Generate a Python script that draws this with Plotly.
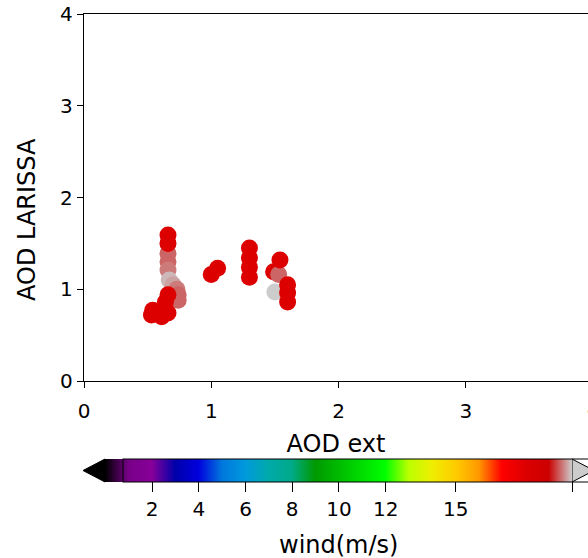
import plotly.graph_objects as go

# ---- data ----
aod_ext = [0.66, 0.66, 0.66, 0.67, 0.70, 0.73, 0.74, 0.74,
           0.66, 0.66, 0.66, 0.64, 0.62, 0.54, 0.53, 0.61, 0.66,
           1.00, 1.05,
           1.30, 1.30, 1.30, 1.30,
           1.50, 1.49, 1.53, 1.54, 1.60, 1.60, 1.60]
aod_larissa = [1.39, 1.30, 1.21, 1.10, 1.05, 1.00, 0.94, 0.88,
               1.59, 1.50, 0.94, 0.86, 0.77, 0.77, 0.72, 0.70, 0.74,
               1.16, 1.23,
               1.45, 1.34, 1.24, 1.13,
               0.97, 1.19, 1.16, 1.32, 1.05, 0.96, 0.86]
wind = [19.5, 19.5, 19.6, 19.9, 19.8, 19.6, 19.5, 19.5,
        18.0, 18.0, 18.0, 18.0, 18.0, 18.0, 18.0, 18.0, 18.0,
        18.0, 18.0,
        18.0, 18.0, 18.0, 18.0,
        20.0, 18.0, 19.5, 18.0, 18.0, 18.0, 18.0]
cbar_ticks = [2, 4, 6, 8, 10, 12, 15, 20]
x_ticks = [0, 1, 2, 3]
y_ticks = [0, 1, 2, 3, 4]

# matplotlib nipy_spectral
_r = [0.0, 0.4667, 0.5333, 0, 0, 0, 0, 0, 0, 0, 0, 0, 0, 0.7333, 0.9333, 1, 1, 1, 0.8667, 0.8, 0.8]
_g = [0, 0, 0, 0, 0, 0.4667, 0.6, 0.6667, 0.6667, 0.6, 0.7333, 0.8667, 1, 1, 0.9333, 0.8, 0.6, 0, 0, 0, 0.8]
_b = [0, 0.5333, 0.6, 0.6667, 0.8667, 0.8667, 0.8667, 0.6667, 0.5333, 0, 0, 0, 0, 0, 0, 0, 0, 0, 0, 0, 0.8]
cscale = [[i / 20, f"rgb({round(r*255)},{round(g*255)},{round(b*255)})"]
          for i, (r, g, b) in enumerate(zip(_r, _g, _b))]

W, H = 588, 558
L, T, B = 84, 14, 177
FONT = dict(family="DejaVu Sans", size=20, color="black")
TFONT = dict(family="DejaVu Sans", size=24, color="black")

fig = go.Figure()
fig.add_trace(go.Scatter(
    x=aod_ext, y=aod_larissa, mode="markers",
    marker=dict(size=17, color=wind, colorscale=cscale, cmin=0, cmax=20,
                line=dict(width=0), opacity=1,
                showscale=True,
                colorbar=dict(
                    orientation="h", thickness=23, lenmode="pixels", len=467,
                    xref="container", yref="container",
                    x=123 / W, xanchor="left", y=(H - 459) / H, yanchor="top",
                    xpad=0, ypad=0, outlinewidth=1, outlinecolor="black",
                    tickmode="array", tickvals=cbar_ticks,
                    ticks="outside", ticklen=10, tickwidth=1, tickcolor="black",
                    tickfont=FONT,
                )),
    showlegend=False, hoverinfo="skip"))

pw = W - L
ph = H - T - B
xmax = pw / 127.25


def px(xp):
    return (xp - L) / pw


def py(yp):
    return (H - B - yp) / ph


shapes = [
    dict(type="path", xref="paper", yref="paper",
         path=f"M {px(105)},{py(459)} L {px(83)},{py(470.5)} L {px(105)},{py(482)} Z",
         fillcolor="black", line=dict(color="black", width=1), layer="above"),
    dict(type="path", xref="paper", yref="paper",
         path=f"M {px(572)},{py(459)} L {px(594)},{py(470.5)} L {px(572)},{py(482)} Z",
         fillcolor="rgb(204,204,204)", line=dict(color="black", width=1), layer="above"),
]

annotations = [
    dict(xref="paper", yref="paper", x=(593 - L) / pw, y=0,
         yshift=-14, text="4", showarrow=False, yanchor="top",
         xanchor="center", font=FONT),
    dict(xref="paper", yref="paper", x=px(27), y=py(220),
         text="AOD LARISSA", textangle=-90, showarrow=False,
         xanchor="center", yanchor="middle", font=TFONT),
    dict(xref="paper", yref="paper", x=px(338), y=py(545),
         text="wind(m/s)", showarrow=False,
         xanchor="center", yanchor="middle", font=TFONT),
]

fig.update_layout(
    width=W, height=H,
    margin=dict(l=L, r=0, t=T, b=B, pad=0),
    paper_bgcolor="white", plot_bgcolor="white",
    font=FONT,
    shapes=shapes,
    annotations=annotations,
    xaxis=dict(range=[0, xmax], tickmode="array", tickvals=x_ticks,
               ticks="outside", ticklen=6, tickwidth=1, tickcolor="black",
               ticklabelstandoff=6,
               showline=True, linecolor="black", linewidth=1.3, mirror=True,
               showgrid=False, zeroline=False,
               title=dict(text="AOD ext", standoff=13, font=TFONT), tickfont=FONT),
    yaxis=dict(range=[0, 4], tickmode="array", tickvals=y_ticks,
               ticks="outside", ticklen=6, tickwidth=1, tickcolor="black",
               showline=True, linecolor="black", linewidth=1.3, mirror=False,
               showgrid=False, zeroline=False, tickfont=FONT),
)

fig.write_html("out.html")
